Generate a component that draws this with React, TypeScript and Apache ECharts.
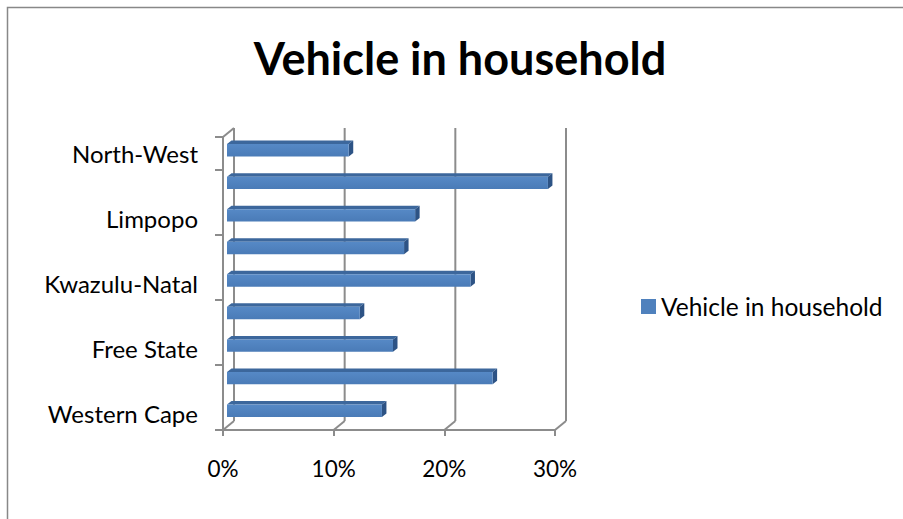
import { useEffect, useRef } from "react";
import * as echarts from "echarts";

const categories = [
  "Western Cape",
  "Eastern Cape",
  "Free State",
  "Northern Cape",
  "Kwazulu-Natal",
  "Mpumalanga",
  "Limpopo",
  "Gauteng",
  "North-West",
];
const values = [0.14, 0.24, 0.15, 0.12, 0.22, 0.16, 0.17, 0.29, 0.11];
const xTicks = [0, 0.1, 0.2, 0.3];
const seriesName = "Vehicle in household";
const titleText = "Vehicle in household";

const DEPTH_X = 11;
const DEPTH_Y = 9;
const GRID_COLOR = "#8c8c8c";
const BAR_FRONT = "#4F81BD";
const BAR_TOP = "#3C679C";
const BAR_SIDE = "#2D5385";
const FONT = "Lato, 'Open Sans', sans-serif";

export default function App() {
  const ref = useRef<HTMLDivElement>(null);
  useEffect(() => {
    const chart = echarts.init(ref.current!, null, { renderer: "svg" });
    chart.setOption({
      animation: false,
      backgroundColor: "#ffffff",
      title: {
        text: titleText,
        left: 460,
        top: 35,
        textAlign: "center",
        padding: 0,
        textStyle: { fontSize: 45, fontWeight: "bold", fontFamily: FONT, color: "#000" },
      },
      legend: {
        data: [{ name: seriesName, itemStyle: { color: BAR_FRONT } }],
        left: 641,
        top: 294,
        padding: 0,
        icon: "rect",
        itemWidth: 15,
        itemHeight: 15,
        textStyle: { fontSize: 24.5, fontFamily: FONT, color: "#000" },
      },
      graphic: [
        {
          type: "rect",
          shape: { x: 7.5, y: 7.5, width: 1200, height: 1200 },
          style: { fill: "none", stroke: "#888888", lineWidth: 1.5 },
          silent: true,
        },
      ],
      grid: { left: 223, right: 348, top: 137, bottom: 89 },
      xAxis: {
        type: "value",
        min: 0,
        max: 0.3,
        interval: 0.1,
        axisLine: { show: true, lineStyle: { color: GRID_COLOR, width: 2 } },
        axisTick: { show: true, length: 6, lineStyle: { color: GRID_COLOR, width: 2 } },
        splitLine: { show: false },
        axisLabel: {
          formatter: (v: number) => Math.round(v * 100) + "%",
          fontSize: 22.5,
          fontFamily: FONT,
          color: "#000",
          margin: 27,
        },
      },
      yAxis: {
        type: "category",
        data: categories,
        axisLine: { show: true, lineStyle: { color: GRID_COLOR, width: 2 } },
        axisTick: { show: true, length: 8, lineStyle: { color: GRID_COLOR, width: 2 } },
        splitLine: { show: false },
        axisLabel: {
          interval: 1,
          fontSize: 24,
          fontFamily: FONT,
          color: "#000",
          margin: 25,
        },
      },
      series: [
        {
          type: "custom",
          name: "walls",
          silent: true,
          z: 1,
          data: xTicks.map((v) => [v, 0]),
          renderItem: (params: any, api: any) => {
            const cs = params.coordSys;
            const fx = api.coord([api.value(0), 0])[0];
            const bx = fx + DEPTH_X;
            const topB = cs.y - DEPTH_Y;
            const botF = cs.y + cs.height;
            const botB = botF - DEPTH_Y;
            const style = { stroke: GRID_COLOR, lineWidth: 2, fill: "none" };
            const children: any[] = [
              { type: "line", shape: { x1: bx, y1: topB, x2: bx, y2: botB }, style },
              { type: "line", shape: { x1: bx, y1: botB, x2: fx, y2: botF }, style },
            ];
            if (params.dataIndex === 0) {
              children.push({ type: "line", shape: { x1: fx, y1: cs.y, x2: bx, y2: topB }, style });
            }
            return { type: "group", children };
          },
        },
        {
          type: "custom",
          name: seriesName,
          z: 3,
          itemStyle: { color: BAR_FRONT },
          data: values.map((v, i) => [v, i]),
          renderItem: (params: any, api: any) => {
            const v = api.value(0);
            const i = api.value(1);
            const p0 = api.coord([0, i]);
            const p1 = api.coord([v, i]);
            const band = api.size([0, 1])[1];
            const h = band * 0.38;
            const x = p0[0] + 4;
            const w = p1[0] - p0[0];
            const y = p0[1] - 3 - h / 2;
            const dx = 4.5;
            const dy = 3.5;
            return {
              type: "group",
              children: [
                {
                  type: "polygon",
                  shape: { points: [[x, y], [x + dx, y - dy], [x + w + dx, y - dy], [x + w, y]] },
                  style: { fill: BAR_TOP },
                },
                {
                  type: "polygon",
                  shape: { points: [[x + w, y], [x + w + dx, y - dy], [x + w + dx, y + h - dy], [x + w, y + h]] },
                  style: { fill: BAR_SIDE },
                },
                {
                  type: "rect",
                  shape: { x, y, width: w, height: h },
                  style: {
                    fill: new echarts.graphic.LinearGradient(0, 0, 0, 1, [
                      { offset: 0, color: "#5689C6" },
                      { offset: 1, color: "#4A7BB7" },
                    ]),
                  },
                },
              ],
            };
          },
        },
      ],
    });
    return () => chart.dispose();
  }, []);
  return (
    <div
      ref={ref}
      style={{ position: "absolute", left: 0, top: 0, width: 903, height: 519 }}
    />
  );
}
